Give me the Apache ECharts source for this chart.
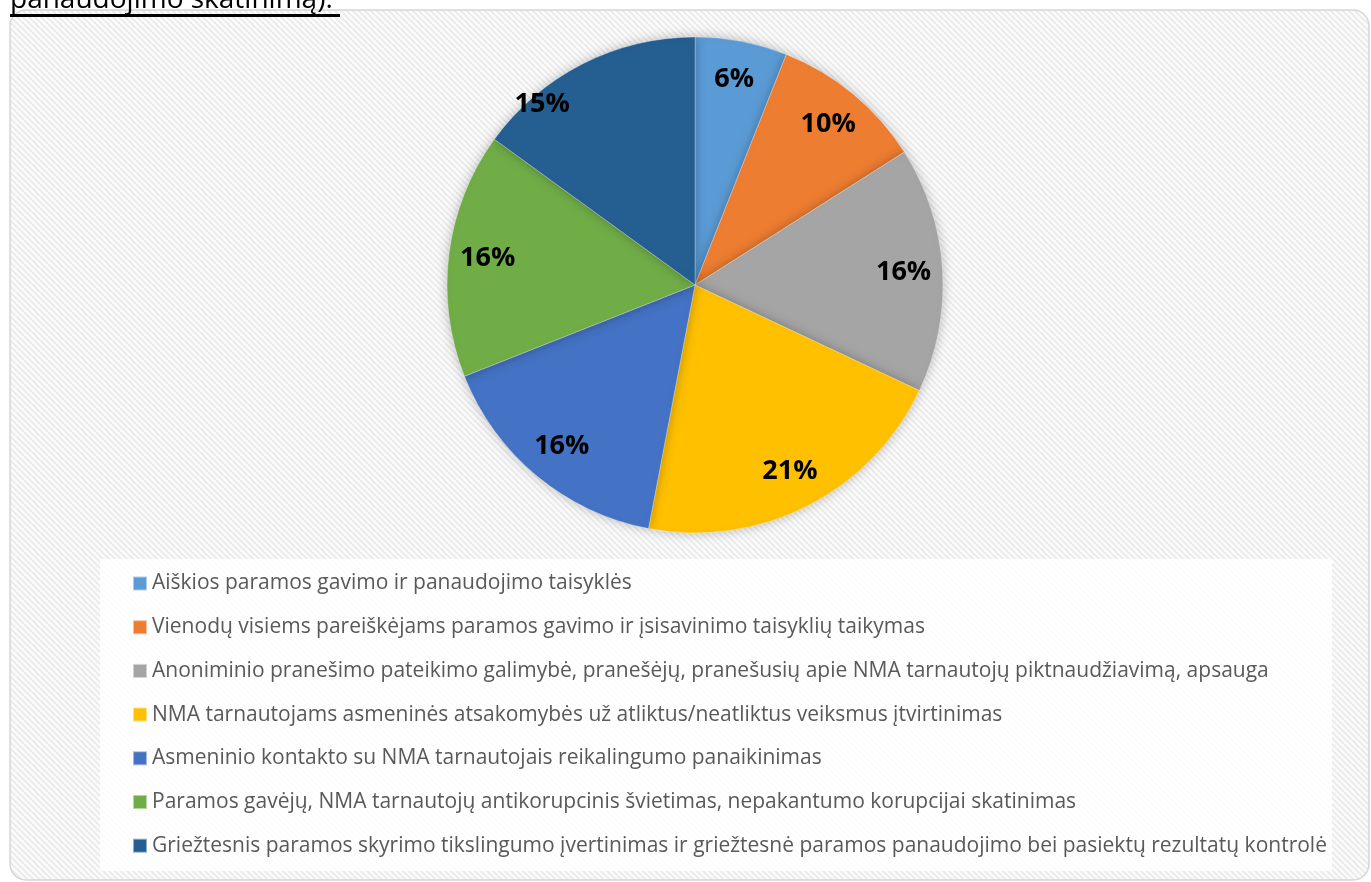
<!DOCTYPE html>
<html>
<head>
<meta charset="utf-8">
<script src="https://cdn.jsdelivr.net/npm/echarts@6/dist/echarts.min.js"></script>
<style>
    html, body { margin: 0; padding: 0; background: #fff; }
    #chart { width: 1371px; height: 882px; }
</style>
</head>
<body>
<div id="chart"></div>
<script>
// duomenys
const categories = [
    "Aiškios paramos gavimo ir panaudojimo taisyklės",
    "Vienodų visiems pareiškėjams paramos gavimo ir įsisavinimo taisyklių taikymas",
    "Anoniminio pranešimo pateikimo galimybė, pranešėjų, pranešusių apie NMA tarnautojų piktnaudžiavimą, apsauga",
    "NMA tarnautojams asmeninės atsakomybės už atliktus/neatliktus veiksmus įtvirtinimas",
    "Asmeninio kontakto su NMA tarnautojais reikalingumo panaikinimas",
    "Paramos gavėjų, NMA tarnautojų antikorupcinis švietimas, nepakantumo korupcijai skatinimas",
    "Griežtesnis paramos skyrimo tikslingumo įvertinimas ir griežtesnė paramos panaudojimo bei pasiektų rezultatų kontrolė"
];
const shares = [6, 10, 16, 21, 16, 16, 15];
const colors = ["#5B9BD5", "#ED7D31", "#A5A5A5", "#FFC000", "#4472C4", "#70AD47", "#255E91"];

// fono raštas (įstrižos linijos)
let pat = document.createElement("canvas");
pat.width = 6;
pat.height = 6;
let ctx = pat.getContext("2d");
ctx.fillStyle = "#fbfbfb";
ctx.fillRect(0, 0, 6, 6);
ctx.strokeStyle = "#e9e9e9";
ctx.lineWidth = 1.6;
ctx.beginPath();
ctx.moveTo(-1, -1); ctx.lineTo(7, 7);
ctx.moveTo(-4, 2); ctx.lineTo(4, 10);
ctx.moveTo(2, -4); ctx.lineTo(10, 4);
ctx.stroke();

let pieData = categories.map(function (name, i) {
    return { name: name, value: shares[i], itemStyle: { color: colors[i] } };
});

// etikečių sluoksnis; paskutinė etiketė Excel'yje pastumta į kairę
let labelData = shares.map(function (v, i) {
    let d = { name: categories[i] + " ", value: v };
    if (i === shares.length - 1) {
        d.label = { offset: [-58, 6] };
    }
    return d;
});

let myChart = echarts.init(document.getElementById("chart"));
let option = {
    animation: false,
    backgroundColor: "#fff",
    graphic: [
        {
            type: "rect",
            z: -10,
            shape: { x: 10, y: 10, width: 1359, height: 870, r: 16 },
            style: { fill: { image: pat, repeat: "repeat" }, stroke: "#d6d6d6", lineWidth: 1.5 }
        },
        {
            type: "rect",
            z: -9,
            shape: { x: 100, y: 559, width: 1232, height: 312 },
            style: { fill: "rgba(255,255,255,0.85)" }
        },
        {
            type: "text",
            z: 10,
            style: {
                x: 10,
                y: 14,
                verticalAlign: "bottom",
                text: "panaudojimo skatinimą).",
                font: "28px 'Open Sans'",
                fill: "#000"
            }
        },
        {
            type: "rect",
            z: 10,
            shape: { x: 10, y: 14, width: 330, height: 3 },
            style: { fill: "#000" }
        }
    ],
    legend: {
        orient: "vertical",
        left: 127,
        top: 568,
        icon: "rect",
        itemWidth: 14,
        itemHeight: 14,
        itemGap: 22.7,
        textStyle: { color: "#595959", fontSize: 21, fontFamily: "Open Sans", lineHeight: 21 },
        data: categories
    },
    series: [
        {
            type: "pie",
            center: [695, 285],
            radius: 248,
            startAngle: 90,
            clockwise: true,
            label: { show: false },
            labelLine: { show: false },
            itemStyle: {
                borderColor: "rgba(255,255,255,0.5)",
                borderWidth: 0.6,
                shadowBlur: 12,
                shadowColor: "rgba(0,0,0,0.25)"
            },
            emphasis: { disabled: true },
            data: pieData
        },
        {
            type: "pie",
            center: [695, 285],
            radius: [164, 248],
            startAngle: 90,
            clockwise: true,
            silent: true,
            legendHoverLink: false,
            itemStyle: { color: "transparent" },
            label: {
                show: true,
                position: "inside",
                formatter: "{c}%",
                color: "#000",
                fontSize: 27,
                fontWeight: "bold",
                fontFamily: "Open Sans"
            },
            labelLine: { show: false },
            data: labelData
        }
    ]
};
myChart.setOption(option);
</script>
</body>
</html>
